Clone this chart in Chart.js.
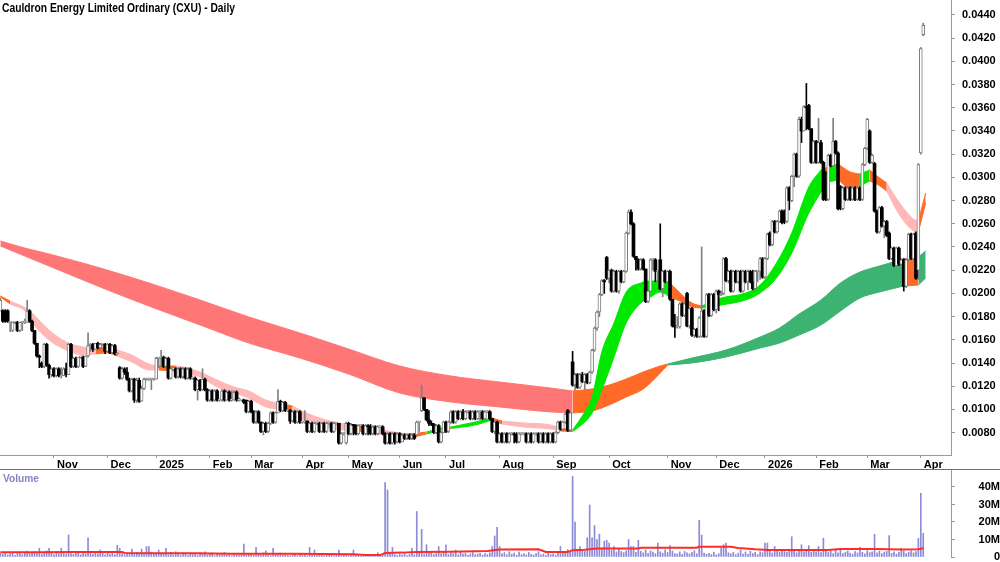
<!DOCTYPE html>
<html>
<head>
<meta charset="utf-8">
<title>Cauldron Energy Limited Ordinary (CXU) - Daily</title>
<script src="https://cdn.jsdelivr.net/npm/chart.js@4.4.1/dist/chart.umd.min.js"></script>
<style>
html, body { margin: 0; padding: 0; background: #fff; overflow: hidden; }
#wrap { position: relative; width: 1000px; height: 562px; overflow: hidden; }
#price { position: absolute; left: 0; top: 0; }
#vol { position: absolute; left: 0; top: 470px; }
#sep { position: absolute; left: 0; top: 469px; width: 1000px; height: 1px; background: #6e6e6e; }
</style>
</head>
<body>
<div id="wrap">
  <canvas id="price" width="1000" height="470"></canvas>
  <div id="sep"></div>
  <canvas id="vol" width="1000" height="100"></canvas>
</div>
<script>
// prices in thousandths of a dollar (8 = 0.0080), one entry per trading day
const opens = [
  18.5,18.5,18.5,18.5,17.5,16.8,17.5,17.5,16.8,17.5, 17.5,17.5,18.5,17.6,16.8,15.7,14.6,14.0,13.7,15.6,
  13.8,13.0,13.5,12.9,13.5,12.9,12.9,13.5,13.0,15.6, 13.7,14.4,13.7,14.5,14.5,13.7,14.6,15.5,15.6,15.2,
  15.7,15.3,15.6,15.6,15.0,15.6,14.9,15.5,14.8,13.6, 12.7,13.5,13.2,12.6,11.6,12.6,10.8,12.5,10.7,11.8,
  12.6,12.6,12.6,12.6,12.6,14.4,14.4,14.5,13.7,14.4, 12.7,13.5,13.5,12.8,13.5,12.8,13.5,12.7,13.5,12.7,
  12.7,11.7,12.5,11.7,12.6,11.7,10.8,11.6,10.8,11.6, 10.8,10.8,11.6,10.8,11.5,10.8,10.8,11.5,10.8,10.8,
  10.8,10.8,9.8,10.7,9.8,8.9,9.8,8.9,8.1,8.8, 8.1,8.8,9.7,8.9,9.7,10.7,9.9,10.6,9.9,9.9,
  9.0,9.8,8.9,9.8,8.9,8.9,9.0,8.1,8.8,8.1, 8.8,8.8,8.1,8.8,8.1,8.8,8.8,8.1,8.8,8.8,
  7.1,7.9,7.1,8.8,7.9,8.7,8.6,7.9,8.6,8.6, 7.9,8.6,8.5,7.9,8.5,7.9,8.5,8.5,7.9,7.1,
  7.9,7.1,7.9,7.2,7.9,7.2,7.8,7.5,7.8,7.5, 7.8,7.8,8.9,9.9,11.0,10.0,9.1,8.8,8.7,8.0,
  8.6,7.2,8.0,8.9,8.1,8.9,9.8,8.9,9.8,9.2, 9.8,9.2,9.8,9.8,9.2,9.8,9.2,9.8,9.8,9.2,
  9.8,9.8,9.2,8.1,8.9,7.2,7.9,7.2,7.9,7.2, 7.9,7.9,7.8,7.2,7.9,7.9,7.9,7.2,7.9,7.2,
  7.9,7.9,7.2,7.9,7.2,7.9,7.2,7.9,7.2,8.0, 8.9,8.3,8.9,9.9,8.2,14.1,12.1,13.0,11.9,13.0,
  12.4,13.0,12.3,13.2,15.1,17.0,18.4,19.9,21.1,23.1, 21.3,22.0,20.2,21.9,20.2,21.9,21.0,21.9,25.2,27.0,
  26.0,23.2,22.9,22.1,22.9,22.1,19.3,20.2,22.9,22.9, 21.9,22.9,20.4,21.9,21.0,21.9,19.5,17.2,17.1,17.1,
  19.1,18.1,20.0,17.2,18.7,16.4,16.9,16.3,16.3,18.5, 16.3,19.9,18.1,19.9,18.6,20.2,19.9,20.0,23.0,21.1,
  21.9,20.2,21.9,21.0,21.9,20.2,21.9,21.0,21.9,21.0, 20.4,21.9,21.9,23.0,21.4,23.0,25.2,24.2,26.2,25.3,
  26.2,27.1,27.1,26.2,29.1,28.0,30.1,32.0,30.1,35.0, 34.0,36.1,36.2,34.2,31.3,33.1,31.3,33.0,31.3,30.4,
  28.1,31.9,31.0,33.1,32.1,29.2,27.3,29.1,28.1,29.1, 28.1,29.1,28.1,29.1,28.1,31.1,32.5,34.0,31.3,31.2,
  27.1,25.3,27.4,25.8,26.2,25.2,23.0,23.9,22.4,23.9, 22.5,22.9,20.6,22.9,25.1,23.0,25.2,22.0,32.1,42.3
];
const highs = [
  19.6,18.6,18.6,18.6,17.6,17.5,17.6,17.6,17.5,17.6, 17.8,19.4,18.6,17.7,16.8,15.7,14.7,14.1,15.7,15.7,
  13.9,13.6,13.6,13.6,13.6,13.6,13.6,14.0,15.7,15.7, 14.5,14.5,14.5,14.6,14.6,14.6,16.6,15.7,15.7,15.7,
  15.8,15.7,15.7,15.7,15.7,15.7,15.6,15.6,14.9,13.7, 13.6,13.6,13.6,12.7,12.7,12.7,12.7,12.7,12.0,12.7,
  12.7,12.7,12.7,12.7,14.5,14.5,15.1,14.6,14.5,14.5, 13.6,13.6,13.6,13.6,13.6,13.6,13.6,13.6,13.6,12.8,
  12.8,12.6,12.6,13.5,12.7,11.8,11.7,11.7,11.7,11.7, 10.9,11.7,11.7,11.6,11.6,11.6,11.6,11.6,11.0,10.9,
  10.9,10.8,10.8,10.8,9.9,9.9,9.9,8.9,8.9,8.9, 8.9,9.8,9.8,9.8,11.7,10.8,10.7,10.7,10.0,10.0,
  9.9,9.9,9.9,9.9,9.0,9.9,9.0,8.9,8.9,8.9, 8.9,8.9,8.9,8.9,8.9,8.9,8.9,8.9,8.9,8.8,
  8.0,8.0,8.9,8.9,8.8,8.7,8.7,8.7,8.7,8.7, 8.7,8.7,8.7,8.6,8.6,8.6,8.6,8.6,8.0,8.0,
  8.0,8.0,8.0,8.0,8.0,7.9,7.9,7.9,7.9,7.9, 7.9,9.0,9.0,12.1,11.0,10.0,9.9,9.0,8.8,8.7,
  8.7,8.1,9.0,9.0,9.0,9.9,9.9,9.9,9.9,9.9, 10.0,9.9,9.9,9.9,9.9,9.9,9.9,9.9,9.9,9.9,
  9.9,9.9,9.2,9.0,9.0,8.0,8.0,8.0,8.0,8.0, 8.0,8.0,8.0,8.0,8.0,8.0,8.0,8.0,8.0,8.0,
  8.0,8.0,8.0,8.0,8.0,8.0,8.0,8.0,8.1,9.0, 9.0,9.0,9.7,10.0,9.8,15.0,13.1,13.1,13.1,13.2,
  13.1,13.1,13.3,15.2,17.1,18.5,20.0,21.2,21.2,23.2, 22.0,22.1,22.0,22.0,22.0,22.0,22.0,25.3,27.2,27.2,
  26.1,23.2,23.0,23.0,23.0,22.1,20.3,23.0,23.0,23.0, 22.0,26.0,22.0,22.0,22.0,22.0,19.5,18.2,18.0,19.2,
  19.2,19.2,20.1,18.8,18.8,17.0,17.0,18.0,24.0,18.6, 20.0,20.0,20.0,20.0,20.3,20.3,20.2,23.1,23.1,22.0,
  22.0,22.0,22.0,22.0,22.0,22.0,22.0,22.0,22.0,22.0, 22.0,22.0,23.1,23.1,23.1,25.2,25.3,26.3,26.3,26.3,
  27.2,27.2,27.2,29.2,29.2,30.2,32.1,32.1,35.2,35.2, 36.2,38.1,36.3,34.2,33.2,33.2,35.1,33.2,31.4,30.5,
  32.0,32.0,35.1,33.2,32.2,29.3,29.2,29.2,29.2,29.2, 29.2,29.2,29.2,29.2,31.2,32.6,35.1,34.1,32.0,31.3,
  27.2,27.5,27.5,26.3,26.3,25.3,24.0,24.0,24.0,24.0, 23.0,23.0,23.0,25.2,25.2,25.2,25.3,31.2,41.2,43.3
];
const lows = [
  18.5,17.5,17.5,17.5,16.7,16.7,17.4,16.7,16.7,16.8, 17.4,17.5,17.5,16.7,15.6,14.5,13.6,13.6,13.6,13.7,
  12.7,12.8,12.8,12.8,12.8,12.7,12.9,12.8,13.0,13.6, 13.6,13.6,13.6,14.4,13.6,13.7,14.5,15.0,15.0,15.2,
  15.2,15.2,15.5,14.8,15.0,14.8,14.8,14.7,14.7,12.6, 12.6,13.0,12.5,11.5,11.5,10.6,10.6,10.6,10.7,11.7,
  12.5,12.5,11.7,12.5,12.6,13.6,13.7,13.6,13.6,12.6, 12.6,13.4,12.7,12.7,12.7,12.7,12.6,12.6,12.6,12.6,
  11.6,10.8,11.6,11.6,11.6,10.7,10.7,10.7,10.7,10.7, 10.7,10.7,10.7,10.8,10.7,10.7,10.8,10.7,10.7,10.7,
  10.5,9.7,9.7,9.7,8.8,8.8,8.8,8.0,7.8,8.0, 8.0,8.7,8.8,8.8,9.7,9.8,9.8,9.8,9.8,8.8,
  8.9,8.8,8.8,8.8,8.8,8.8,8.0,8.0,8.0,8.0, 8.7,8.0,8.0,8.0,8.0,8.7,8.0,8.0,8.7,7.0,
  7.0,7.8,7.0,7.8,7.8,7.8,7.8,7.8,8.5,7.8, 7.8,7.8,7.8,7.8,7.8,7.8,8.4,7.8,7.0,7.0,
  7.0,7.0,7.0,7.1,7.1,7.2,7.4,7.4,7.4,7.4, 7.4,7.8,8.1,9.8,9.9,9.0,8.6,8.6,7.9,7.9,
  7.1,7.1,8.0,8.0,8.0,8.8,8.8,8.8,9.1,9.1, 9.1,9.1,9.7,9.1,9.1,9.1,9.1,9.1,9.1,9.1,
  9.7,9.1,8.0,7.9,7.1,7.1,7.1,7.1,7.1,7.1, 7.8,7.1,7.1,7.1,7.8,7.8,7.1,7.1,7.1,7.1,
  7.8,7.1,7.1,7.1,7.1,7.1,7.1,7.1,7.1,7.9, 8.2,8.2,8.8,8.1,8.1,12.0,11.7,11.8,11.8,12.3,
  11.7,12.2,12.2,13.1,15.0,16.8,18.0,19.8,20.0,21.2, 20.9,20.1,20.1,20.1,20.0,20.9,20.9,21.8,25.1,25.9,
  23.1,22.0,22.0,22.0,22.0,19.2,19.2,20.1,22.0,21.0, 20.3,20.3,19.7,20.9,20.9,19.4,17.1,16.2,17.0,17.0,
  18.0,18.0,17.1,17.0,16.3,16.2,16.2,16.2,16.2,16.2, 16.2,18.0,18.0,18.5,18.3,18.5,19.8,19.9,21.0,20.9,
  20.1,20.1,20.9,20.9,20.1,20.1,20.9,20.3,20.9,20.3, 20.3,21.0,21.2,21.3,21.3,22.9,24.1,24.1,25.2,25.2,
  26.1,26.0,26.0,26.1,27.2,27.9,29.2,30.0,30.0,33.0, 34.0,34.1,34.1,31.2,31.2,31.2,31.2,31.2,28.0,28.0,
  28.0,30.9,30.9,32.0,27.2,27.2,27.2,28.0,28.0,28.0, 28.0,28.0,28.0,28.0,28.0,31.0,32.4,31.2,31.2,27.0,
  25.2,25.2,25.7,24.8,24.9,22.9,22.9,22.3,22.3,22.4, 22.4,20.2,20.5,22.8,22.9,22.9,21.2,21.2,32.0,42.2
];
const closes = [
  19.4,17.6,17.6,17.6,17.5,17.5,17.5,16.8,17.5,17.5, 17.5,18.5,17.6,16.8,15.7,14.6,14.5,13.7,15.6,13.8,
  13.0,13.5,12.9,13.5,12.9,12.9,13.5,13.0,15.6,13.7, 14.4,13.7,14.5,14.5,13.7,14.6,15.5,15.6,15.2,15.7,
  15.3,15.6,15.6,15.0,15.6,14.9,15.5,14.8,14.8,12.7, 13.5,13.2,12.6,11.6,12.6,10.8,12.5,10.7,11.8,12.6,
  12.6,12.6,12.6,12.6,14.4,14.4,14.5,13.7,14.4,12.7, 13.5,13.5,12.8,13.5,12.8,13.5,12.7,13.5,12.7,12.7,
  11.7,12.5,11.7,12.6,11.7,10.8,11.6,10.8,11.6,10.8, 10.8,11.6,10.8,11.5,10.8,10.8,11.5,10.8,10.8,10.8,
  10.6,9.8,10.7,9.8,8.9,9.8,8.9,8.1,8.8,8.1, 8.8,9.7,8.9,9.7,10.7,9.9,10.6,9.9,9.9,9.0,
  9.8,8.9,9.8,8.9,8.9,9.0,8.1,8.8,8.1,8.8, 8.8,8.1,8.8,8.1,8.8,8.8,8.1,8.8,8.8,7.1,
  7.9,7.9,8.8,7.9,8.7,8.6,7.9,8.6,8.6,7.9, 8.6,8.5,7.9,8.5,7.9,8.5,8.5,7.9,7.1,7.9,
  7.1,7.9,7.2,7.9,7.2,7.8,7.5,7.8,7.5,7.8, 7.5,8.9,8.9,11.0,10.0,9.1,8.8,8.7,8.0,8.6,
  7.2,8.0,8.9,8.1,8.9,9.8,8.9,9.8,9.2,9.8, 9.2,9.8,9.8,9.2,9.8,9.2,9.8,9.8,9.2,9.8,
  9.8,9.2,8.1,8.9,7.2,7.9,7.2,7.9,7.2,7.9, 7.9,7.8,7.2,7.9,7.9,7.9,7.2,7.9,7.2,7.9,
  7.9,7.2,7.9,7.2,7.9,7.2,7.9,7.2,8.0,8.9, 8.3,8.9,9.6,8.2,9.7,12.1,13.0,11.9,13.0,12.4,
  13.0,12.3,13.2,15.1,17.0,18.4,19.9,21.1,21.0,21.3, 22.0,20.2,21.9,20.2,21.9,21.0,21.9,25.2,27.0,26.0,
  23.2,22.9,22.1,22.9,22.1,19.3,20.2,22.9,22.9,21.9, 21.9,20.4,21.9,21.0,21.9,19.5,17.2,17.1,17.1,19.1,
  18.1,19.1,17.2,18.7,16.4,16.9,16.3,17.9,18.5,16.3, 19.9,18.1,19.9,18.6,20.2,19.9,20.0,23.0,21.1,21.9,
  20.2,21.9,21.0,21.9,20.2,21.9,21.0,21.9,21.0,20.4, 21.9,21.9,23.0,21.4,23.0,25.1,24.2,26.2,25.3,26.2,
  27.1,26.1,26.2,29.1,28.0,30.1,32.0,30.1,35.0,34.0, 36.1,36.0,34.2,31.3,33.1,31.3,33.0,31.3,28.1,28.1,
  31.9,31.0,33.1,32.1,27.3,27.3,29.1,28.1,29.1,28.1, 29.1,28.1,29.1,28.1,31.1,32.5,35.0,31.3,31.9,27.1,
  25.3,27.4,25.8,26.2,25.0,23.0,23.9,22.4,23.9,22.5, 22.9,20.6,22.9,25.1,23.0,25.1,21.3,31.1,41.1,43.1
];
// volume in millions of shares
const volumes = [
  2.1,1.5,2.4,1.2,1.8,2.5,1.0,2.2,3.0,1.4, 2.6,3.4,1.9,2.3,3.1,2.0,5.0,1.6,2.8,3.5,
  5.0,2.2,1.4,2.9,1.8,5.0,2.4,1.7,12.6,2.0, 1.5,3.2,2.1,1.3,2.6,1.9,11.0,2.4,1.6,3.0,
  1.8,4.0,2.2,1.2,2.5,1.6,2.9,1.4,6.7,5.0, 2.0,1.3,2.4,1.8,4.5,1.5,2.7,1.9,4.5,2.2,
  6.0,6.0,2.8,1.6,2.3,4.0,1.7,2.1,5.0,1.4, 2.6,1.2,3.0,1.8,1.1,2.4,1.5,1.0,2.0,1.3,
  1.6,0.9,2.2,1.4,3.0,1.1,1.7,2.3,0.8,1.5, 1.9,1.2,2.6,1.0,1.4,0.7,1.8,1.3,0.9,1.6,
  7.4,1.2,2.0,1.5,0.9,5.5,1.7,1.1,2.3,3.5, 1.4,0.8,5.0,1.6,1.2,2.2,0.9,1.5,1.1,0.7,
  1.3,2.0,0.8,1.6,1.0,1.4,0.6,5.5,1.2,4.0, 0.9,1.5,1.1,0.7,1.8,1.0,1.3,0.6,1.4,4.0,
  0.8,1.2,1.6,0.7,1.0,4.0,0.9,1.3,0.6,1.1, 0.8,1.5,0.7,1.0,0.5,2.5,1.2,0.9,42.5,38.3,
  2.0,5.5,1.4,0.9,1.7,1.2,2.1,0.8,1.5,5.0, 1.3,26.0,2.4,15.8,1.6,7.0,2.2,3.0,1.4,2.0,
  6.0,1.8,2.6,7.0,1.5,2.3,1.9,4.0,1.2,2.7, 1.6,2.2,1.0,1.8,2.5,1.3,1.7,2.1,1.1,1.9,
  1.4,2.4,6.0,12.0,17.0,6.0,1.8,2.5,1.3,3.0, 1.6,2.2,1.0,2.8,1.4,1.9,1.2,2.6,1.5,1.1,
  2.0,3.0,1.3,1.7,0.9,2.1,1.4,1.8,1.1,2.5, 6.0,2.3,3.1,4.2,2.8,46.0,20.0,3.5,6.0,4.1,
  3.2,11.0,29.7,11.0,18.0,10.0,13.0,4.5,9.0,9.5, 8.0,3.8,6.0,2.9,4.4,3.1,2.5,3.6,10.0,6.0,
  6.0,2.7,9.5,3.3,2.4,4.0,2.1,3.5,2.8,1.9, 8.0,3.0,2.2,4.1,2.6,6.5,3.4,2.0,1.7,2.9,
  1.5,3.2,2.4,1.8,2.7,3.6,1.9,21.0,12.5,2.3, 1.6,2.1,1.4,2.8,1.2,1.9,5.0,7.0,8.0,2.4,
  1.8,2.6,1.3,2.2,4.0,1.6,2.9,1.5,3.3,2.0, 2.7,1.4,3.0,2.5,8.0,8.0,3.6,2.3,6.0,3.9,
  2.8,4.4,3.1,2.6,4.0,11.6,3.2,2.4,3.7,7.0, 2.9,3.4,6.5,2.7,4.2,3.0,6.0,2.5,10.7,3.8,
  2.6,3.3,2.0,4.1,2.4,5.0,1.9,2.8,3.5,2.2, 1.6,3.1,2.3,5.5,2.7,1.8,3.6,2.5,3.0,13.0,
  2.4,3.4,1.9,2.8,3.2,12.2,2.1,2.9,1.7,2.6, 5.0,3.3,2.0,2.7,3.5,2.4,3.1,10.7,36.4,13.5
];

// red volume average line, read at a few days
const volAvgDay = [0,16,30,50,51,80,95,120,145,150,156,158,165,171,185,200,205,221,224,233,235,240,245,262,263,286,287,300,303,310,315,340,345,360,370,377,379];
const volAvgVal = [2.7,2.7,2.9,2.9,2.3,2.1,1.9,1.8,1.6,1.2,1.1,2.3,2.5,2.9,3.0,3.4,4.3,4.4,2.9,2.9,3.9,4.2,4.8,4.9,5.3,5.3,5.9,5.9,5.2,4.4,4.0,4.0,4.6,4.5,4.3,4.4,5.0];

// long-term ribbon (upper / lower edge), colour of the stretch that starts at each day
const longDay = [0,10,20,41,61,82,102,123,143,164,185,205,226,235,243,250,257,264,271,274,284,298,312,320,328,337,345,353,361,371,377,380];
const longTop = [24.52,23.91,23.40,22.19,20.90,19.43,17.97,16.59,15.21,13.74,12.88,12.36,11.84,11.59,11.76,12.10,12.62,13.22,13.74,13.91,14.43,15.12,16.24,17.02,18.22,19.43,20.90,21.84,22.36,22.97,23.14,23.66];
const longBot = [24.09,23.22,22.36,20.55,18.91,17.28,15.72,14.43,13.05,11.41,10.64,10.21,9.78,9.69,9.86,10.38,11.07,11.76,13.14,13.83,14.00,14.52,15.29,15.72,16.41,17.28,18.48,19.60,20.12,20.64,20.72,21.33];
const longCol = ['r','r','r','r','r','r','r','r','r','r','r','r','r','o','o','o','o','o','o','g','g','g','g','g','g','g','g','g','g','o','g',''];

// short-term ribbon
const shortDay = [0,4,11,13,20,27,34,39,44,48, 54,61,65,72,75,82,89,96,102,109, 116,120,123,130,137,142,152,157,164,168,
  175,181,185,195,202,206,215,226,230,235, 240,243,247,252,257,263,267,271,275,280, 284,288,296,306,312,319,325,332,337,340,
  344,349,353,357,360,364,369,375,377,380];
const shortTop = [19.78,19.34,18.66,18.31,16.84,15.81,15.38,15.29,15.38,15.12, 14.69,13.91,13.74,13.74,13.66,13.22,12.53,11.93,11.59,10.81,
  10.47,10.29,9.95,9.34,8.91,8.74,8.40,8.22,7.97,7.88, 8.05,8.40,8.48,8.91,9.26,9.00,8.83,8.66,8.40,8.22,
  9.78,11.07,14.95,17.45,20.12,20.90,21.07,21.07,20.90,19.86, 19.17,18.91,19.60,20.03,20.72,22.71,25.21,29.17,30.64,30.90,
  31.16,30.47,30.29,30.64,30.12,29.52,27.88,26.41,26.24,28.66];
const shortBot = [19.69,19.09,18.31,17.53,15.98,15.12,14.69,14.78,14.86,14.60, 14.09,13.40,13.40,13.31,13.14,12.79,11.93,11.41,10.98,10.21,
  9.95,9.78,9.26,8.74,8.31,8.22,8.05,7.79,7.62,7.53, 7.88,8.22,8.36,8.66,9.09,8.74,8.48,8.31,8.14,8.09,
  8.91,9.69,11.67,14.52,17.45,19.17,19.69,20.12,19.69,19.26, 18.83,18.74,19.00,19.43,20.03,21.41,23.48,26.93,28.74,29.60,
  29.78,29.09,29.26,29.69,29.43,28.83,26.84,25.38,25.29,27.79];
const shortCol = ['o','p','p','p','p','p','p','o','o','p', 'p','p','o','p','p','p','p','p','p','p',
  'o','p','p','p','p','o','p','p','p','o', 'G','o','G','G','o','p','p','p','o','G',
  'G','G','G','G','G','G','G','G','o','o', 'o','G','G','G','G','G','G','G','o','G',
  'o','o','G','o','o','p','p','p','o',''];

const monthDay = [22,44,64,86,103,124,143,164,183,205,227,250,274,294,314,335,356,378];
const monthLabels = ['Nov','Dec','2025','Feb','Mar','Apr','May','Jun','Jul','Aug','Sep','Oct','Nov','Dec','2026','Feb','Mar','Apr'];
const priceTicks = [8,10,12,14,16,18,20,22,24,26,28,30,32,34,36,38,40,42,44];
const volTicks = [0,10,20,30,40];

const TITLE = 'Cauldron Energy Limited Ordinary (CXU) - Daily';
const FONT = '"Liberation Sans", Arial, Helvetica, sans-serif';
const BAND = { r: '#ff7676', o: '#ff6a26', g: '#3cb371', p: '#ffb8b8', G: '#00e800' };
const X_MIN = -0.16, X_MAX = 390.4;
const AXIS_GREY = '#9a9a9a';

const days = closes.map((c, i) => i);
const up = i => closes[i] >= opens[i];

function ribbon(dayArr, topArr, botArr, colArr, order) {
    const sets = [];
    let s = 0;
    while (s < dayArr.length - 1) {
        let e = s + 1;
        while (e < dayArr.length - 1 && colArr[e] === colArr[s]) e++;
        const c = BAND[colArr[s]];
        const lo = [], hi = [];
        for (let k = s; k <= e; k++) {
            lo.push({ x: dayArr[k], y: botArr[k] });
            hi.push({ x: dayArr[k], y: topArr[k] });
        }
        const base = { type: 'line', borderColor: c, backgroundColor: c, borderWidth: 1, pointRadius: 0, cubicInterpolationMode: 'monotone', order: order };
        sets.push({ ...base, data: lo, fill: false });
        sets.push({ ...base, data: hi, fill: '-1' });
        s = e;
    }
    return sets;
}

const tickFont = { family: FONT, size: 11, weight: 'bold' };

const titlePlugin = {
    id: 'chartTitle',
    afterDraw(chart) {
        const ctx = chart.ctx;
        ctx.save();
        ctx.font = 'bold 12px ' + FONT;
        const w = ctx.measureText(TITLE).width;
        ctx.translate(2, 12);
        ctx.scale(233 / w, 1);
        ctx.fillStyle = '#000';
        ctx.textBaseline = 'alphabetic';
        ctx.fillText(TITLE, 0, 0);
        ctx.restore();
    }
};

const volLabelPlugin = {
    id: 'volLabel',
    afterDraw(chart) {
        const ctx = chart.ctx;
        ctx.save();
        ctx.font = 'bold 11px ' + FONT;
        const w = ctx.measureText('Volume').width;
        ctx.translate(3, 12);
        ctx.scale(36 / w, 1);
        ctx.fillStyle = '#8585c4';
        ctx.fillText('Volume', 0, 0);
        ctx.restore();
    }
};

new Chart(document.getElementById('price'), {
    type: 'bar',
    data: {
        datasets: [
            {
                data: days.map(i => ({ x: i, y: [opens[i], closes[i]] })),
                backgroundColor: days.map(i => up(i) ? '#ffffff' : '#000000'),
                borderColor: days.map(i => up(i) ? '#7c7c7c' : '#000000'),
                borderWidth: days.map(i => up(i) ? 1 : 0),
                borderSkipped: false, barThickness: 3, minBarLength: 1, grouped: false, order: 0
            },
            {
                data: days.map(i => ({ x: i, y: [lows[i], highs[i]] })),
                backgroundColor: days.map(i => up(i) ? '#808080' : '#000000'),
                borderWidth: 0, barThickness: 1, minBarLength: 1, grouped: false, order: 1
            },
            ...ribbon(shortDay, shortTop, shortBot, shortCol, 5),
            ...ribbon(longDay, longTop, longBot, longCol, 6)
        ]
    },
    options: {
        responsive: false, animation: false, events: [],
        layout: { padding: 0 },
        plugins: { legend: { display: false }, tooltip: { enabled: false } },
        scales: {
            x: {
                type: 'linear', min: X_MIN, max: X_MAX, offset: false, position: 'bottom',
                grid: { drawOnChartArea: false, drawTicks: true, tickLength: 3, color: AXIS_GREY, offset: false },
                border: { display: true, color: AXIS_GREY },
                ticks: {
                    autoSkip: false, maxRotation: 0, align: 'start', padding: 0, color: '#000', font: tickFont,
                    callback: v => { const k = monthDay.indexOf(v); return k >= 0 ? ' ' + monthLabels[k] : ''; }
                },
                afterBuildTicks: s => { s.ticks = monthDay.map(v => ({ value: v })); },
                afterFit: s => { s.height = 15; s.paddingLeft = 0; s.paddingRight = 0; }
            },
            y: {
                type: 'linear', position: 'right', min: 6.069, max: 45.293,
                grid: { drawOnChartArea: false, tickLength: 4, color: AXIS_GREY },
                border: { display: true, color: AXIS_GREY },
                ticks: { padding: 7, color: '#000', font: tickFont, callback: v => (v / 1000).toFixed(4) },
                afterBuildTicks: s => { s.ticks = priceTicks.map(v => ({ value: v })); },
                afterFit: s => { s.width = 49; s.paddingTop = 0; s.paddingBottom = 0; }
            }
        }
    },
    plugins: [titlePlugin]
});

new Chart(document.getElementById('vol'), {
    type: 'bar',
    data: {
        datasets: [
            {
                type: 'line',
                data: volAvgDay.map((d, k) => ({ x: d, y: volAvgVal[k] })),
                borderColor: '#ff2a2a', borderWidth: 2, pointRadius: 0, tension: 0, fill: false, order: 0
            },
            {
                data: days.map(i => ({ x: i, y: volumes[i] })),
                backgroundColor: '#8b8bd8', barThickness: 1, grouped: false, order: 1
            }
        ]
    },
    options: {
        responsive: false, animation: false, events: [],
        layout: { padding: { top: 0, bottom: 13, left: 0, right: 0 } },
        plugins: { legend: { display: false }, tooltip: { enabled: false } },
        scales: {
            x: { type: 'linear', min: X_MIN, max: X_MAX, offset: false, display: false },
            y: {
                type: 'linear', position: 'right', min: 0, max: 49.71,
                grid: { drawOnChartArea: false, tickLength: 4, color: AXIS_GREY },
                border: { display: true, color: AXIS_GREY },
                ticks: { crossAlign: 'far', padding: 22, color: '#000', font: tickFont, callback: v => v === 0 ? '0' : v + 'M' },
                afterBuildTicks: s => { s.ticks = volTicks.map(v => ({ value: v })); },
                afterFit: s => { s.width = 49; s.paddingTop = 0; s.paddingBottom = 0; }
            }
        }
    },
    plugins: [volLabelPlugin]
});
</script>
</body>
</html>
